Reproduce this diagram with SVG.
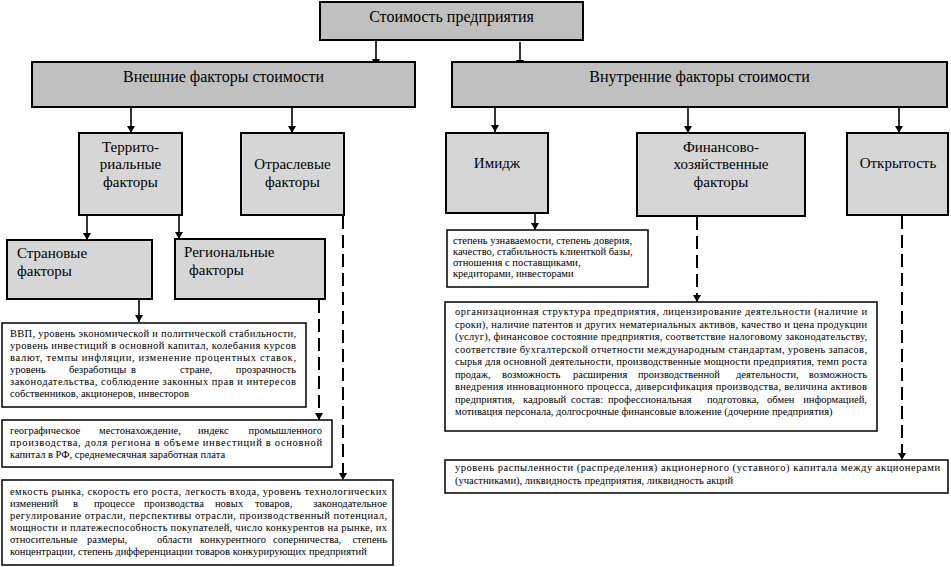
<svg xmlns="http://www.w3.org/2000/svg" width="951" height="567" viewBox="0 0 951 567" font-family="'Liberation Serif', serif">
<style>
  .g1 { fill: #c0c0c0; stroke: #000; stroke-width: 2; }
  .g2 { fill: #d6d6d6; stroke: #000; stroke-width: 2; }
  .tb { fill: #fff; stroke: #000; stroke-width: 1.5; }
  text { font-family: 'Liberation Serif', serif; fill: #000; }
  .t16 { font-size: 16px; text-anchor: middle; }
  .t15 { font-size: 15px; text-anchor: middle; }
  .t15l { font-size: 15px; }
  .s { font-size: 10.5px; }
  .e { text-anchor: end; }
  .c { fill: none; stroke: #000; stroke-width: 1.6; }
  .d { fill: none; stroke: #000; stroke-width: 2; stroke-dasharray: 13 6; }
</style>
<defs>
  <marker id="ah" markerWidth="8" markerHeight="8" refX="7" refY="4" orient="auto" markerUnits="userSpaceOnUse">
    <path d="M0,0 L7,4 L0,8 z" fill="#000"/>
  </marker>
</defs>

<g id="connectors">
  <line class="c" x1="376" y1="41" x2="376" y2="66" marker-end="url(#ah)"/>
  <line class="c" x1="520" y1="42" x2="520" y2="67" marker-end="url(#ah)"/>
  <line class="c" x1="131" y1="108" x2="131" y2="133" marker-end="url(#ah)"/>
  <line class="c" x1="292" y1="108" x2="292" y2="133" marker-end="url(#ah)"/>
  <line class="c" x1="495" y1="108" x2="495" y2="132" marker-end="url(#ah)"/>
  <line class="c" x1="688" y1="108" x2="688" y2="133" marker-end="url(#ah)"/>
  <line class="c" x1="899" y1="108" x2="899" y2="133" marker-end="url(#ah)"/>
  <line class="c" x1="87" y1="216" x2="87" y2="240" marker-end="url(#ah)"/>
  <line class="c" x1="179" y1="216" x2="179" y2="239" marker-end="url(#ah)"/>
  <line class="c" x1="139" y1="300" x2="139" y2="322" marker-end="url(#ah)"/>
  <line class="c" x1="535" y1="214" x2="535" y2="230" marker-end="url(#ah)"/>
  <line class="d" x1="319" y1="300" x2="319" y2="420" marker-end="url(#ah)"/>
  <line class="d" x1="343" y1="216" x2="343" y2="480" marker-end="url(#ah)"/>
  <line class="d" x1="697" y1="217" x2="697" y2="302" marker-end="url(#ah)"/>
  <line class="d" x1="902" y1="216" x2="902" y2="460" marker-end="url(#ah)"/>
</g>

<g id="node-top">
  <rect class="g1" x="320" y="2" width="263" height="38"/>
  <text class="t16" x="451.5" y="22">Стоимость предприятия</text>
</g>

<g id="node-external">
  <rect class="g1" x="32" y="62" width="383" height="45"/>
  <text class="t16" x="223.5" y="82">Внешние факторы стоимости</text>
</g>

<g id="node-internal">
  <rect class="g1" x="452" y="62" width="495" height="45"/>
  <text class="t16" x="699.5" y="82">Внутренние факторы стоимости</text>
</g>

<g id="node-territorial">
  <rect class="g2" x="79" y="133" width="103" height="82"/>
  <text class="t15" x="130.5" y="152">Террито-</text>
  <text class="t15" x="130.5" y="169">риальные</text>
  <text class="t15" x="130.5" y="187">факторы</text>
</g>

<g id="node-industry">
  <rect class="g2" x="241" y="133" width="103" height="82"/>
  <text class="t15" x="292.5" y="169">Отраслевые</text>
  <text class="t15" x="292.5" y="187">факторы</text>
</g>

<g id="node-image">
  <rect class="g2" x="446" y="133" width="102" height="80"/>
  <text class="t15" x="497" y="168">Имидж</text>
</g>

<g id="node-financial">
  <rect class="g2" x="637" y="133" width="168" height="83"/>
  <text class="t15" x="721" y="152">Финансово-</text>
  <text class="t15" x="721" y="169">хозяйственные</text>
  <text class="t15" x="721" y="187">факторы</text>
</g>

<g id="node-openness">
  <rect class="g2" x="847" y="133" width="101" height="82"/>
  <text class="t15" x="898" y="168">Открытость</text>
</g>

<g id="node-country">
  <rect class="g2" x="7" y="240" width="145" height="59"/>
  <text class="t15l" x="17" y="258">Страновые</text>
  <text class="t15l" x="17" y="276">факторы</text>
</g>

<g id="node-regional">
  <rect class="g2" x="175" y="239" width="150" height="60"/>
  <text class="t15l" x="184" y="257">Региональные</text>
  <text class="t15l" x="189" y="275">факторы</text>
</g>

<g id="node-country-text">
  <rect class="tb" x="2" y="323" width="304" height="84"/>
  <text class="s" x="10" y="337" textLength="286" lengthAdjust="spacing">ВВП, уровень экономической и политической стабильности,</text>
  <text class="s" x="10" y="349" textLength="286" lengthAdjust="spacing">уровень инвестиций в основной капитал, колебания курсов</text>
  <text class="s" x="10" y="361" textLength="286" lengthAdjust="spacing">валют, темпы инфляции, изменение процентных ставок,</text>
  <text class="s" y="373"><tspan x="10">уровень</tspan><tspan x="69">безработицы</tspan><tspan x="131">в</tspan><tspan x="180">стране,</tspan></text>
  <text class="s e" x="296" y="373">прозрачность</text>
  <text class="s" x="10" y="385" textLength="286" lengthAdjust="spacing">законодательства, соблюдение законных прав и интересов</text>
  <text class="s" x="10" y="397">собственников, акционеров, инвесторов</text>
</g>

<g id="node-regional-text">
  <rect class="tb" x="2" y="420" width="330" height="47"/>
  <text class="s" y="434"><tspan x="10">географическое</tspan><tspan x="99">местонахождение,</tspan><tspan x="198">индекс</tspan></text>
  <text class="s e" x="322" y="434">промышленного</text>
  <text class="s" x="10" y="446" textLength="312" lengthAdjust="spacing">производства, доля региона в объеме инвестиций в основной</text>
  <text class="s" x="10" y="458">капитал в РФ, среднемесячная заработная плата</text>
</g>

<g id="node-industry-text">
  <rect class="tb" x="2" y="480" width="391" height="85"/>
  <text class="s" x="10" y="495" textLength="377" lengthAdjust="spacing">емкость рынка, скорость его роста, легкость входа, уровень технологических</text>
  <text class="s" y="507"><tspan x="10">изменений</tspan><tspan x="73">в</tspan><tspan x="94">процессе</tspan><tspan x="144">производства</tspan><tspan x="215">новых</tspan><tspan x="255">товаров,</tspan></text>
  <text class="s e" x="387" y="507">законодательное</text>
  <text class="s" x="10" y="519" textLength="377" lengthAdjust="spacing">регулирование отрасли, перспективы отрасли, производственный потенциал,</text>
  <text class="s" x="10" y="531" textLength="377" lengthAdjust="spacing">мощности и платежеспособность покупателей, число конкурентов на рынке, их</text>
  <text class="s" y="543"><tspan x="10">относительные</tspan><tspan x="87">размеры,</tspan><tspan x="157">области</tspan><tspan x="200">конкурентного</tspan><tspan x="273">соперничества,</tspan></text>
  <text class="s e" x="387" y="543">степень</text>
  <text class="s" x="10" y="555">концентрации, степень дифференциации товаров конкурирующих предприятий</text>
</g>

<g id="node-image-text">
  <rect class="tb" x="447" y="230" width="201" height="57"/>
  <text class="s" x="453" y="244">степень узнаваемости, степень доверия,</text>
  <text class="s" x="453" y="255">качество, стабильность клиенткой базы,</text>
  <text class="s" x="453" y="266">отношения с поставщиками,</text>
  <text class="s" x="453" y="277">кредиторами, инвесторами</text>
</g>

<g id="node-financial-text">
  <rect class="tb" x="445" y="302" width="432" height="129"/>
  <text class="s" x="455" y="315" textLength="412" lengthAdjust="spacing">организационная структура предприятия, лицензирование деятельности (наличие и</text>
  <text class="s" x="455" y="327.5" textLength="412" lengthAdjust="spacing">сроки), наличие патентов и других нематериальных активов, качество и цена продукции</text>
  <text class="s" x="455" y="340" textLength="412" lengthAdjust="spacing">(услуг), финансовое состояние предприятия, соответствие налоговому законодательству,</text>
  <text class="s" x="455" y="352.5" textLength="412" lengthAdjust="spacing">соответствие бухгалтерской отчетности международным стандартам, уровень запасов,</text>
  <text class="s" x="455" y="365" textLength="412" lengthAdjust="spacing">сырья для основной деятельности, производственные мощности предприятия, темп роста</text>
  <text class="s" y="377.5"><tspan x="455">продаж,</tspan><tspan x="502">возможность</tspan><tspan x="573">расширения</tspan><tspan x="638">производственной</tspan><tspan x="736">деятельности,</tspan></text>
  <text class="s e" x="867" y="377.5">возможность</text>
  <text class="s" x="455" y="390" textLength="412" lengthAdjust="spacing">внедрения инновационного процесса, диверсификация производства, величина активов</text>
  <text class="s" y="402.5"><tspan x="455">предприятия,</tspan><tspan x="523">кадровый</tspan><tspan x="571">состав:</tspan><tspan x="608">профессиональная</tspan><tspan x="707">подготовка,</tspan><tspan x="767">обмен</tspan></text>
  <text class="s e" x="867" y="402.5">информацией,</text>
  <text class="s" x="455" y="415">мотивация персонала, долгосрочные финансовые вложение (дочерние предприятия)</text>
</g>

<g id="node-openness-text">
  <rect class="tb" x="445" y="460" width="503" height="33"/>
  <text class="s" x="455" y="471" textLength="485" lengthAdjust="spacing">уровень распыленности (распределения) акционерного (уставного) капитала между акционерами</text>
  <text class="s" x="455" y="484">(участниками), ликвидность предприятия, ликвидность акций</text>
</g>
</svg>
